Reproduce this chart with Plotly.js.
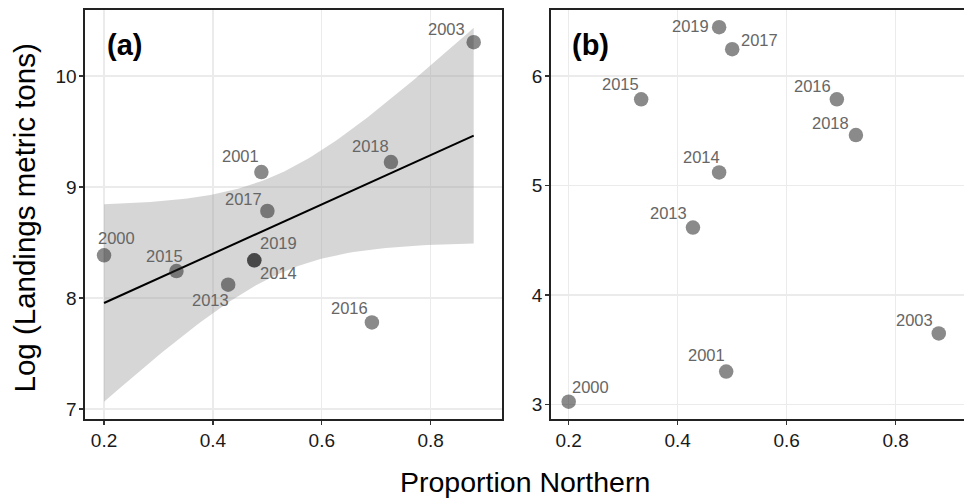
<!DOCTYPE html>
<html><head><meta charset="utf-8">
<script src="https://cdn.plot.ly/plotly-3.0.1.min.js"></script>
<style>html,body{margin:0;padding:0;background:#fff;overflow:hidden}#chart{width:964px;height:498px}</style>
</head><body><div id="chart"></div>
<script>
// ---- data ----
const years = [2000, 2001, 2003, 2013, 2014, 2015, 2016, 2017, 2018, 2019];
const proportionNorthern = [0.200, 0.489, 0.879, 0.428, 0.476, 0.333, 0.692, 0.500, 0.727, 0.476];
const logLandingsA = [8.385, 9.135, 10.305, 8.120, 8.340, 8.243, 7.780, 8.784, 9.225, 8.340];
const logLandingsB = [3.027, 3.302, 3.650, 4.616, 5.119, 5.787, 5.787, 6.244, 5.461, 6.445];
const xTickVals = [0.2, 0.4, 0.6, 0.8];
const yTickValsA = [7, 8, 9, 10];
const yTickValsB = [3, 4, 5, 6];
const panelLabels = ['(a)', '(b)'];
const xTitle = 'Proportion Northern';
const yTitle = 'Log (Landings metric tons)';

// ---- label placement (pixel offsets from each point, same order as years) ----
const labelOffsetA = [[12,-17],[-21,-16],[-27,-13],[-18,15],[24,13],[-12,-15],[-22,-14],[-24,-12],[-20,-16],[24,-17]];
const labelOffsetB = [[22,-15],[-20,-17],[-24,-13],[-24,-15],[-18,-15],[-21,-15],[-24,-13],[27,-9],[-25,-12],[-29,-1]];

// ---- linear model fit with 95% confidence band (as geom_smooth(method='lm')) ----
function lmFit(xs, ys) {
  const n = xs.length;
  const mx = xs.reduce((a,b)=>a+b,0)/n, my = ys.reduce((a,b)=>a+b,0)/n;
  let sxx=0, sxy=0;
  for (let i=0;i<n;i++){ sxx += (xs[i]-mx)**2; sxy += (xs[i]-mx)*(ys[i]-my); }
  const b = sxy/sxx, a = my - b*mx;
  let sse=0; for (let i=0;i<n;i++){ sse += (ys[i]-(a+b*xs[i]))**2; }
  const s = Math.sqrt(sse/(n-2));
  const tq = 2.306; // t(0.975, df = 8)
  const lo = Math.min(...xs), hi = Math.max(...xs);
  const gx=[], gy=[], up=[], dn=[];
  for (let k=0;k<=80;k++){
    const x = lo + (hi-lo)*k/80;
    const yhat = a + b*x;
    const se = s*Math.sqrt(1/n + (x-mx)**2/sxx);
    gx.push(x); gy.push(yhat); up.push(yhat+tq*se); dn.push(yhat-tq*se);
  }
  return {gx, gy, up, dn};
}
const fit = lmFit(proportionNorthern, logLandingsA);

const FONT = '"Liberation Sans", Arial, Helvetica, sans-serif';
const pointColor = 'rgba(30,30,30,0.52)';

const traces = [
  { x: fit.gx.concat(fit.gx.slice().reverse()), y: fit.up.concat(fit.dn.slice().reverse()),
    type:'scatter', mode:'lines', fill:'toself', fillcolor:'rgba(153,153,153,0.4)',
    line:{width:0}, xaxis:'x', yaxis:'y', hoverinfo:'skip', showlegend:false },
  { x: fit.gx, y: fit.gy, type:'scatter', mode:'lines', line:{color:'#000', width:2},
    xaxis:'x', yaxis:'y', hoverinfo:'skip', showlegend:false },
  { x: proportionNorthern, y: logLandingsA, type:'scatter', mode:'markers',
    marker:{size:14.5, color:pointColor, line:{width:0}}, xaxis:'x', yaxis:'y', showlegend:false },
  { x: proportionNorthern, y: logLandingsB, type:'scatter', mode:'markers',
    marker:{size:14.5, color:pointColor, line:{width:0}}, xaxis:'x2', yaxis:'y2', showlegend:false }
];

const annotations = [];
const labFont = {family: FONT, size: 16.5, color: '#666666'};
years.forEach((yr, i) => {
  annotations.push({x: proportionNorthern[i], y: logLandingsA[i], xref:'x', yref:'y', text: String(yr),
    showarrow:false, xanchor:'center', yanchor:'middle', xshift: labelOffsetA[i][0], yshift: -labelOffsetA[i][1], font: labFont});
  annotations.push({x: proportionNorthern[i], y: logLandingsB[i], xref:'x2', yref:'y2', text: String(yr),
    showarrow:false, xanchor:'center', yanchor:'middle', xshift: labelOffsetB[i][0], yshift: -labelOffsetB[i][1], font: labFont});
});
annotations.push({x:0.0947, y:0.914, xref:'x domain', yref:'y domain', text:'<b>'+panelLabels[0]+'</b>', showarrow:false,
  xanchor:'center', yanchor:'middle', font:{family:FONT, size:29, color:'#000'}});
annotations.push({x:0.0975, y:0.914, xref:'x2 domain', yref:'y2 domain', text:'<b>'+panelLabels[1]+'</b>', showarrow:false,
  xanchor:'center', yanchor:'middle', font:{family:FONT, size:29, color:'#000'}});
annotations.push({x:0.5, y:0, xref:'paper', yref:'paper', text:xTitle, showarrow:false,
  xanchor:'center', yanchor:'middle', yshift:-63, font:{family:FONT, size:28.5, color:'#000'}});
annotations.push({x:0, y:0.5, xref:'paper', yref:'paper', text:yTitle, showarrow:false, textangle:-90,
  xanchor:'center', yanchor:'middle', xshift:-61, yshift:-4, font:{family:FONT, size:29.5, color:'#000'}});

const axBase = {
  showgrid:true, gridcolor:'#ebebeb', gridwidth:1.3, zeroline:false,
  showline:true, linecolor:'#222', linewidth:1.6,
  ticks:'outside', ticklen:4, tickwidth:1.2, tickcolor:'#333',
  tickfont:{family:FONT, size:19, color:'#1a1a1a'}, fixedrange:true
};

const layout = {
  width:964, height:498, margin:{l:85, r:0, t:10, b:79},
  paper_bgcolor:'#fff', plot_bgcolor:'#fff', showlegend:false,
  font:{family:FONT},
  xaxis: Object.assign({}, axBase, {domain:[0,0.4744], range:[0.165,0.931], tickvals:xTickVals, ticktext:xTickVals.map(v=>v.toFixed(1)), mirror:true, anchor:'y'}),
  yaxis: Object.assign({}, axBase, {domain:[0,1], range:[6.91,10.595], tickvals:yTickValsA, ticktext:yTickValsA.map(String), mirror:true, anchor:'x', ticklabelstandoff:-1}),
  xaxis2: Object.assign({}, axBase, {domain:[0.5298,1], range:[0.167,0.9253], tickvals:xTickVals, ticktext:xTickVals.map(v=>v.toFixed(1)), mirror:true, anchor:'y2'}),
  yaxis2: Object.assign({}, axBase, {domain:[0,1], range:[2.869,6.602], tickvals:yTickValsB, ticktext:yTickValsB.map(String), mirror:false, anchor:'x2', ticklabelstandoff:-1}),
  annotations: annotations
};

Plotly.newPlot('chart', traces, layout, {staticPlot:true, displayModeBar:false});
</script>
</body></html>
